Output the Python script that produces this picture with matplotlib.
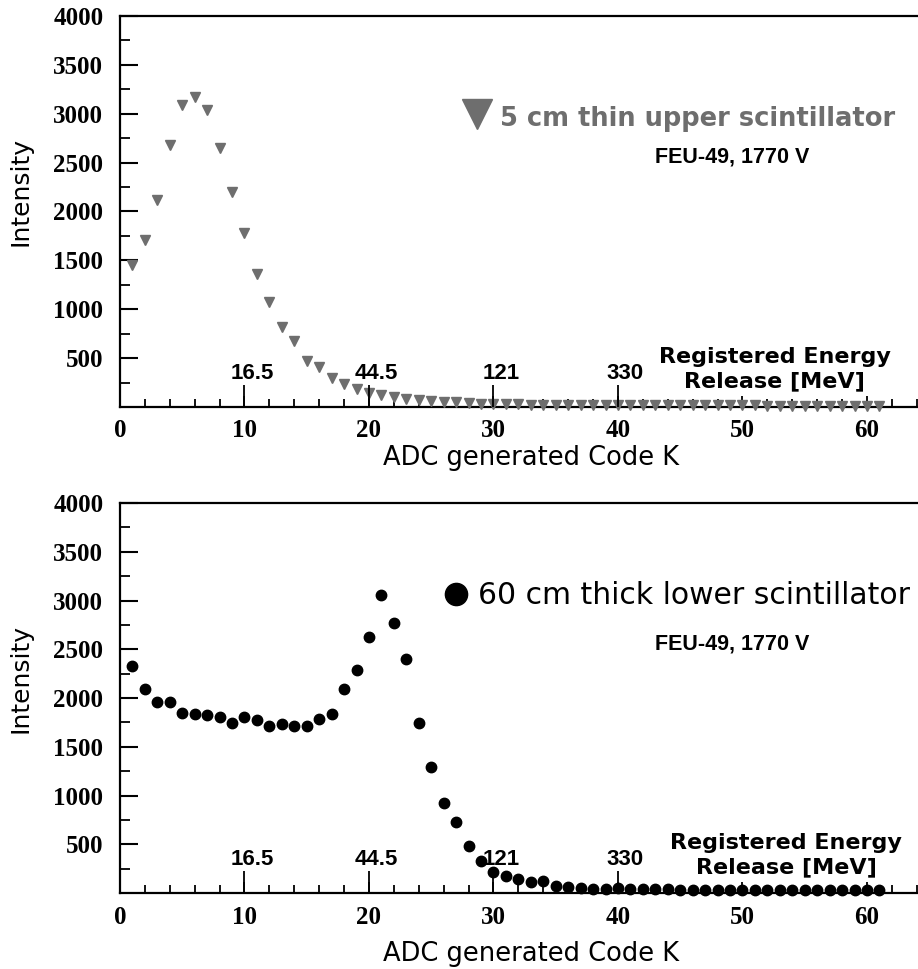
import matplotlib

matplotlib.use("Agg")
import matplotlib.pyplot as plt
from matplotlib.ticker import MultipleLocator

# ADC code channels
code_k = list(range(1, 62))

# 5 cm thin upper scintillator (grey triangles)
upper_intensity = [
    1450, 1710, 2120, 2680, 3090, 3175, 3040, 2650, 2195, 1785,
    1360, 1070, 820, 670, 470, 410, 300, 240, 180, 148,
    122, 105, 82, 70, 60, 54, 50, 45, 35, 31,
    28, 26, 24, 22, 21, 20, 20, 19, 19, 18,
    18, 18, 17, 17, 17, 17, 16, 16, 16, 16,
    16, 15, 15, 15, 15, 15, 15, 15, 15, 15, 15,
]

# 60 cm thick lower scintillator (black dots)
lower_intensity = [
    2330, 2090, 1962, 1955, 1849, 1832, 1825, 1808, 1746, 1808,
    1774, 1713, 1733, 1713, 1716, 1788, 1836, 2089, 2287, 2629,
    3056, 2766, 2397, 1746, 1289, 923, 728, 482, 328, 215,
    174, 144, 113, 123, 72, 62, 51, 45, 45, 48,
    42, 40, 38, 38, 36, 36, 35, 35, 34, 34,
    33, 33, 32, 32, 32, 31, 31, 30, 30, 30, 30,
]

# registered energy release markers along the code axis
energy_code = [10, 20, 30, 40]
energy_labels = ["16.5", "44.5", "121", "330"]

x_ticks = [0, 10, 20, 30, 40, 50, 60]
y_ticks = [500, 1000, 1500, 2000, 2500, 3000, 3500, 4000]

tick_font = {"family": "Liberation Serif", "weight": "bold", "size": 18}


def style_axes(ax, xlabel_y, energy_text_x):
    ax.set_xlim(0, 64.1)
    ax.set_ylim(0, 4000)
    ax.spines["right"].set_visible(False)
    for side in ("left", "bottom", "top"):
        ax.spines[side].set_linewidth(1.6)
    ax.set_xticks(x_ticks)
    ax.set_yticks(y_ticks)
    ax.xaxis.set_minor_locator(MultipleLocator(2))
    ax.yaxis.set_minor_locator(MultipleLocator(250))
    ax.tick_params(axis="x", which="major", direction="in", length=8, width=1.3, pad=9)
    ax.tick_params(axis="x", which="minor", direction="in", length=6, width=1.3)
    ax.tick_params(axis="y", which="major", direction="in", length=13, width=1.5, pad=12)
    ax.tick_params(axis="y", which="minor", direction="in", length=7, width=1.3)
    ax.tick_params(top=False, right=False, which="both")
    ax.set_xticklabels([str(t) for t in x_ticks], fontdict=tick_font)
    ax.set_yticklabels([str(t) for t in y_ticks], fontdict=tick_font)

    ax.set_xlabel("ADC generated Code K", family="DejaVu Sans", fontsize=18.5)
    ax.xaxis.set_label_coords(0.515, xlabel_y)
    ax.set_ylabel("Intensity", family="DejaVu Sans", fontsize=18)
    ax.yaxis.set_label_coords(-0.11, 0.55)

    ax.vlines(energy_code, 0, 225, color="black", linewidth=1.3, zorder=4)
    for xc, lab in zip(energy_code, energy_labels):
        ax.text(xc + 0.6, 235, lab, ha="center", va="bottom",
                family="Liberation Sans", fontweight="bold", fontsize=16, zorder=5)

    ax.text(energy_text_x, 160, "Registered Energy\nRelease [MeV]", ha="center", va="bottom",
            family="DejaVu Sans", fontweight="bold", fontsize=16, linespacing=1.3)
    ax.text(43.0, 2500, "FEU-49, 1770 V", ha="left", va="baseline",
            family="Liberation Sans", fontweight="bold", fontsize=15.5)


fig = plt.figure(figsize=(9.18, 9.69), dpi=100)
ax_top = fig.add_axes([0.1307, 0.580, 0.8693, 0.4035])
ax_bot = fig.add_axes([0.1307, 0.0784, 0.8693, 0.4025])

grey = "#6e6e6e"
ax_top.plot(code_k, upper_intensity, linestyle="none", marker="v", markersize=7.5,
            color=grey, zorder=3, clip_on=False)
ax_top.plot([28.7], [3000], linestyle="none", marker="v", markersize=21, color=grey)
ax_top.text(30.5, 2875, "5 cm thin upper scintillator", ha="left", va="baseline",
            family="DejaVu Sans", fontweight="bold", fontsize=18.5, color=grey)
style_axes(ax_top, -0.097, 52.6)

ax_bot.plot(code_k, lower_intensity, linestyle="none", marker="o", markersize=7.5,
            color="black", zorder=3, clip_on=False)
ax_bot.plot([27.0], [3067], linestyle="none", marker="o", markersize=16, color="black")
ax_bot.text(28.75, 2964, "60 cm thick lower scintillator", ha="left", va="baseline",
            family="DejaVu Sans", fontsize=21.5, color="black")
style_axes(ax_bot, -0.124, 53.5)

fig.savefig("out.png", dpi=100)
